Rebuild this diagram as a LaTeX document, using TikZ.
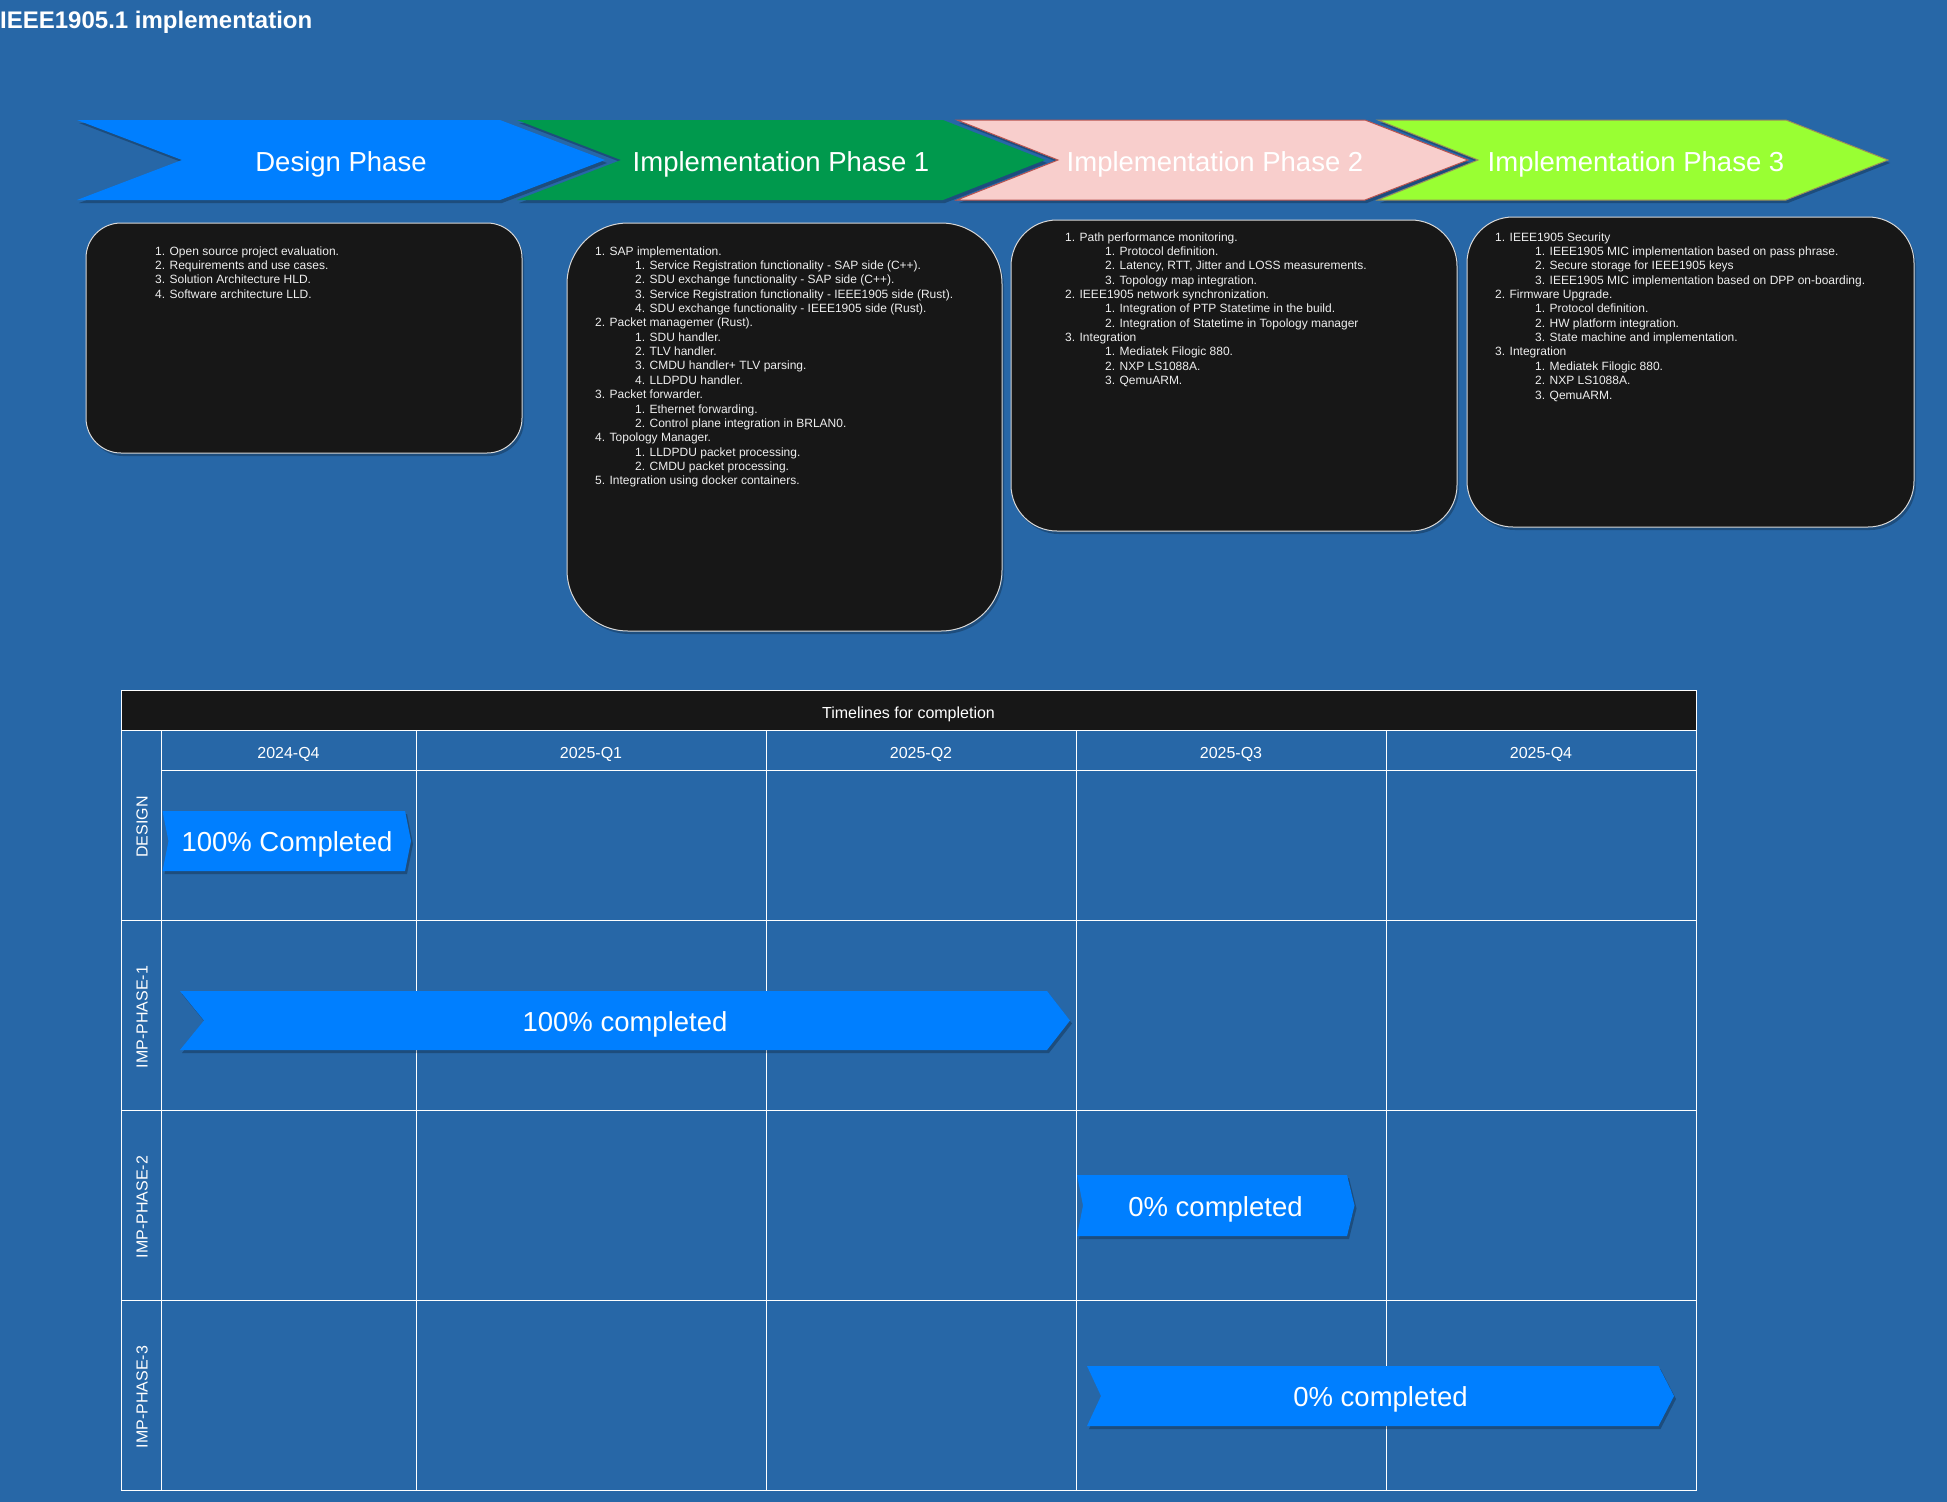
\documentclass[tikz,border=0pt]{standalone}
\usepackage{fontspec}
\setmainfont{Liberation Sans}
\usetikzlibrary{shadows}
\definecolor{bg}{RGB}{39,103,167}
\definecolor{phblue}{HTML}{007FFF}
\definecolor{phgreen}{HTML}{00994D}
\definecolor{phpink}{HTML}{F8CECC}
\definecolor{phpinkline}{HTML}{B85450}
\definecolor{phlime}{HTML}{99FF33}
\definecolor{phlimeline}{HTML}{9A8C5A}
\definecolor{darkbox}{HTML}{171717}
\definecolor{boxline}{HTML}{D8D8D8}
\definecolor{listgray}{HTML}{EEEEEE}
\newcommand{\subind}{\hspace*{40pt}}
\begin{document}
\begin{tikzpicture}[x=1pt,y=-1pt,
  softshadow/.style={drop shadow={shadow xshift=2pt,shadow yshift=-3pt,opacity=0.25,fill=black}},
  bigtext/.style={text=white,font=\fontsize{27.5}{33}\selectfont,anchor=base,inner sep=0pt},
  listbox/.style={fill=darkbox,draw=boxline,line width=1pt,softshadow},
  listtext/.style={text=listgray,font=\fontsize{12}{14.37}\selectfont,anchor=base west,inner sep=0pt},
  gridline/.style={draw=white,line width=1pt},
  hdrtext/.style={text=white,font=\fontsize{16}{19}\selectfont,anchor=base,inner sep=0pt},
  lanetext/.style={text=white,font=\fontsize{16}{19}\selectfont,rotate=90,anchor=center,inner sep=0pt},
  barshape/.style={fill=phblue,softshadow}
]
% background
\fill[bg] (0,0) rectangle (1947,1502);
\useasboundingbox (0,0) rectangle (1947,1502);

% title
\node[text=white,font=\fontsize{24}{29}\selectfont\bfseries,anchor=base west,inner sep=0pt] (title) at (0,28.5) {IEEE1905.1 implementation};

% phase chevrons
\fill[phblue,softshadow] (77,120) -- (500,120) -- (605,160) -- (500,200) -- (77,200) -- (182,160) -- cycle;
\fill[phgreen,softshadow] (517,120) -- (943,120) -- (1045,160) -- (943,200) -- (517,200) -- (621,160) -- cycle;
\filldraw[fill=phpink,draw=phpinkline,line width=1pt,softshadow] (957,120) -- (1365,120) -- (1468,160) -- (1365,200) -- (957,200) -- (1058,160) -- cycle;
\filldraw[fill=phlime,draw=phlimeline,line width=1pt,softshadow] (1378,120) -- (1786,120) -- (1888,160) -- (1786,200) -- (1378,200) -- (1478,160) -- cycle;

\node[bigtext] (ph0) at (341,171.3) {Design Phase};
\node[bigtext] (ph1) at (781,171.3) {Implementation Phase 1};
\node[bigtext] (ph2) at (1215,171.3) {Implementation Phase 2};
\node[bigtext] (ph3) at (1636,171.3) {Implementation Phase 3};

% list boxes
\path[listbox,rounded corners=35pt] (86,223) rectangle (522,453);
\path[listbox,rounded corners=61pt] (567,223) rectangle (1002,631);
\path[listbox,rounded corners=46pt] (1011,220) rectangle (1457,531);
\path[listbox,rounded corners=46pt] (1467,217) rectangle (1914,527);

\node[listtext] (list0) at (155,255) {\begin{tabular}[t]{@{}l@{}}
1. Open source project evaluation.\\
2. Requirements and use cases.\\
3. Solution Architecture HLD.\\
4. Software architecture LLD.
\end{tabular}};

\node[listtext] (list1) at (595,255) {\begin{tabular}[t]{@{}l@{}}
1. SAP implementation.\\
\subind 1. Service Registration functionality - SAP side (C++).\\
\subind 2. SDU exchange functionality - SAP side (C++).\\
\subind 3. Service Registration functionality - IEEE1905 side (Rust).\\
\subind 4. SDU exchange functionality - IEEE1905 side (Rust).\\
2. Packet managemer (Rust).\\
\subind 1. SDU handler.\\
\subind 2. TLV handler.\\
\subind 3. CMDU handler+ TLV parsing.\\
\subind 4. LLDPDU handler.\\
3. Packet forwarder.\\
\subind 1. Ethernet forwarding.\\
\subind 2. Control plane integration in BRLAN0.\\
4. Topology Manager.\\
\subind 1. LLDPDU packet processing.\\
\subind 2. CMDU packet processing.\\
5. Integration using docker containers.
\end{tabular}};

\node[listtext] (list2) at (1065,241) {\begin{tabular}[t]{@{}l@{}}
1. Path performance monitoring.\\
\subind 1. Protocol definition.\\
\subind 2. Latency, RTT, Jitter and LOSS measurements.\\
\subind 3. Topology map integration.\\
2. IEEE1905 network synchronization.\\
\subind 1. Integration of PTP Statetime in the build.\\
\subind 2. Integration of Statetime in Topology manager\\
3. Integration\\
\subind 1. Mediatek Filogic 880.\\
\subind 2. NXP LS1088A.\\
\subind 3. QemuARM.
\end{tabular}};

\node[listtext] (list3) at (1495,241) {\begin{tabular}[t]{@{}l@{}}
1. IEEE1905 Security\\
\subind 1. IEEE1905 MIC implementation based on pass phrase.\\
\subind 2. Secure storage for IEEE1905 keys\\
\subind 3. IEEE1905 MIC implementation based on DPP on-boarding.\\
2. Firmware Upgrade.\\
\subind 1. Protocol definition.\\
\subind 2. HW platform integration.\\
\subind 3. State machine and implementation.\\
3. Integration\\
\subind 1. Mediatek Filogic 880.\\
\subind 2. NXP LS1088A.\\
\subind 3. QemuARM.
\end{tabular}};

% timeline table
\filldraw[fill=darkbox,gridline] (121,690) rectangle (1696,730);
\draw[gridline] (121,730) rectangle (1696,1490);
\draw[gridline] (161,770) -- (1696,770);
\foreach \yy in {920,1110,1300} \draw[gridline] (121,\yy) -- (1696,\yy);
\foreach \xx in {161,416,766,1076,1386} \draw[gridline] (\xx,730) -- (\xx,1490);

\node[hdrtext] (tlhead) at (908.5,718) {Timelines for completion};
\node[hdrtext] (q1) at (288.5,758) {2024-Q4};
\node[hdrtext] (q2) at (591,758) {2025-Q1};
\node[hdrtext] (q3) at (921,758) {2025-Q2};
\node[hdrtext] (q4) at (1231,758) {2025-Q3};
\node[hdrtext] (q5) at (1541,758) {2025-Q4};

\node[lanetext] (lane0) at (142,827) {DESIGN};
\node[lanetext] (lane1) at (142,1017) {IMP-PHASE-1};
\node[lanetext] (lane2) at (142,1207) {IMP-PHASE-2};
\node[lanetext] (lane3) at (142,1397) {IMP-PHASE-3};

% progress bars
\path[barshape] (162.5,811) -- (405,811) -- (411,841) -- (405,871) -- (162.5,871) -- (168.5,841) -- cycle;
\path[barshape] (180,991) -- (1047,991) -- (1070,1020.5) -- (1047,1050) -- (180,1050) -- (204,1020.5) -- cycle;
\path[barshape] (1077,1175) -- (1347,1175) -- (1354.5,1205.5) -- (1347,1236) -- (1077,1236) -- (1083,1205.5) -- cycle;
\path[barshape] (1087,1366) -- (1658.5,1366) -- (1674,1396) -- (1658.5,1426) -- (1087,1426) -- (1101,1396) -- cycle;

\node[bigtext] (bar0) at (287,851) {100\% Completed};
\node[bigtext] (bar1) at (625,1031) {100\% completed};
\node[bigtext] (bar2) at (1215.5,1216) {0\% completed};
\node[bigtext] (bar3) at (1380.5,1406.5) {0\% completed};
\end{tikzpicture}
\end{document}
